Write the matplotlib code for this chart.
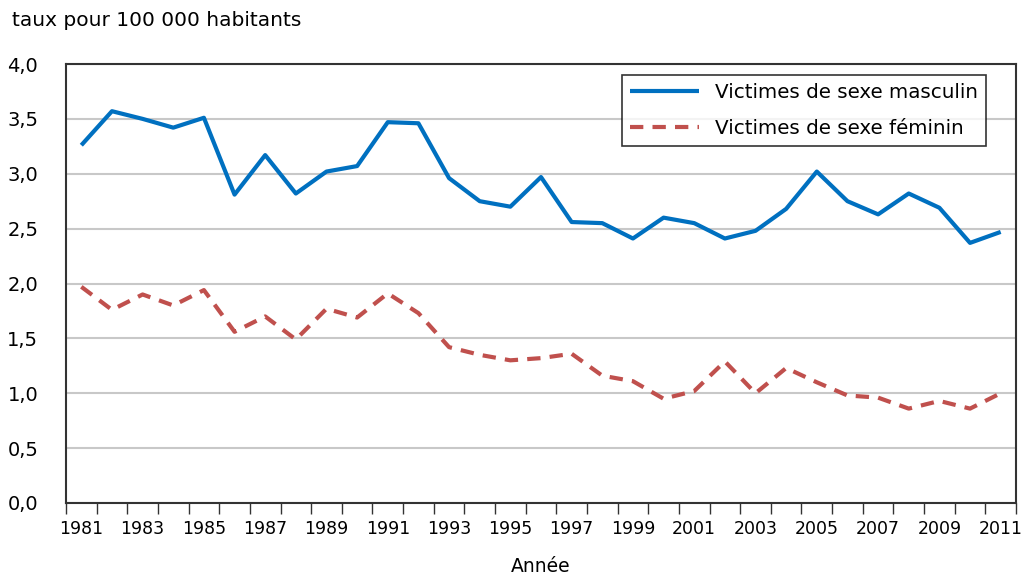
import numpy as np
import matplotlib
matplotlib.use('Agg')
import matplotlib.pyplot as plt
from matplotlib.ticker import FuncFormatter

annees = list(range(1981, 2012))
masculin = [3.26, 3.57, 3.50, 3.42, 3.51, 2.81, 3.17, 2.82, 3.02, 3.07,
            3.47, 3.46, 2.96, 2.75, 2.70, 2.97, 2.56, 2.55, 2.41, 2.60,
            2.55, 2.41, 2.48, 2.68, 3.02, 2.75, 2.63, 2.82, 2.69, 2.37, 2.47]
feminin = [1.97, 1.76, 1.90, 1.80, 1.94, 1.56, 1.70, 1.49, 1.77, 1.69,
           1.91, 1.73, 1.42, 1.35, 1.30, 1.32, 1.36, 1.16, 1.11, 0.95,
           1.02, 1.29, 1.00, 1.23, 1.10, 0.98, 0.96, 0.86, 0.93, 0.86, 1.00]

plt.rcParams['font.family'] = ['DejaVu Sans']

fig = plt.figure(figsize=(10.24, 5.78), dpi=100)
ax = fig.add_axes([66/1024, 75/578, 950/1024, 439/578])

ax.plot(annees, masculin, color='#0070c0', lw=3, solid_capstyle='butt',
        label='Victimes de sexe masculin')
ax.plot(annees, feminin, color='#c0504d', lw=3, dashes=(3.2, 2.2),
        label='Victimes de sexe féminin')

ax.set_ylim(0, 4)
ax.set_yticks(np.arange(0, 4.01, 0.5))
ax.yaxis.set_major_formatter(FuncFormatter(lambda v, p: f'{v:.1f}'.replace('.', ',')))
ax.set_xlim(annees[0] - 0.5, annees[-1] + 0.5)
ax.set_xticks(annees[::2])
ax.set_xticks(np.arange(annees[0] - 0.5, annees[-1] + 1), minor=True)
ax.tick_params(axis='x', which='major', length=0, pad=12, labelsize=12.5)
ax.tick_params(axis='x', which='minor', length=8, width=1, color='#333333')
ax.tick_params(axis='y', length=0, pad=20, labelsize=14)
ax.grid(axis='y', color='#c8c8c8', lw=1.5)
ax.set_axisbelow(True)
for s in ax.spines.values():
    s.set_color('#333333')
    s.set_linewidth(1.5)

ax.set_xlabel('Année', fontsize=13.5, labelpad=14)
fig.text(12/1024, 1 - 20/578, 'taux pour 100 000 habitants', fontsize=14.5, va='center')

leg = ax.legend(loc='upper right', bbox_to_anchor=(986/1024, 1 - 75/578),
                bbox_transform=fig.transFigure, fontsize=14.3, frameon=True,
                fancybox=False, edgecolor='black', handlelength=3.5,
                borderpad=0.4, labelspacing=0.85, borderaxespad=0)
leg.get_frame().set_linewidth(1.2)

fig.savefig('out.png', dpi=100)
